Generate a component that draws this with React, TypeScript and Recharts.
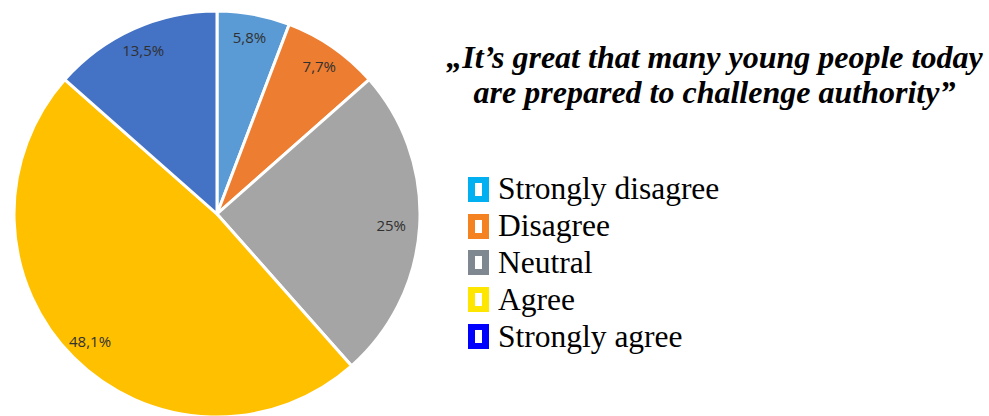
import { PieChart, Pie, Cell } from "recharts";

const categories = ["Strongly disagree", "Disagree", "Neutral", "Agree", "Strongly agree"];
const shares = [5.8, 7.7, 25, 48.1, 13.5];
const labels = ["5,8%", "7,7%", "25%", "48,1%", "13,5%"];
const sliceColors = ["#5B9BD5", "#ED7D31", "#A5A5A5", "#FFC000", "#4472C4"];
const legendColors = ["#00B0F0", "#F58220", "#7F8790", "#FFE600", "#0000FF"];

const data = categories.map((name, i) => ({ name, value: shares[i], label: labels[i] }));

const SERIF = "'Times New Roman', Tinos, 'Liberation Serif', 'DejaVu Serif', serif";
const RADIAN = Math.PI / 180;

function renderLabel(props: any) {
  const { cx, cy, midAngle, outerRadius, index } = props;
  const r = outerRadius * (index === 2 ? 0.86 : 0.885);
  const x = cx + r * Math.cos(-midAngle * RADIAN);
  const y = cy + r * Math.sin(-midAngle * RADIAN);
  return (
    <text
      x={x}
      y={y}
      fill="#303030"
      fontSize={15}
      fontFamily="'Open Sans', sans-serif"
      textAnchor="middle"
      dominantBaseline="central"
    >
      {labels[index]}
    </text>
  );
}

export default function App() {
  return (
    <div
      style={{
        position: "fixed",
        left: 0,
        top: 0,
        width: 989,
        height: 416,
        background: "#fff",
        overflow: "hidden",
      }}
    >
      <div style={{ position: "absolute", left: 0, top: 0 }}>
        <PieChart width={440} height={420} margin={{ top: 0, right: 0, bottom: 0, left: 0 }}>
          <Pie
            data={data}
            dataKey="value"
            cx={217}
            cy={214}
            outerRadius={203}
            startAngle={90}
            endAngle={-270}
            stroke="#fff"
            strokeWidth={3}
            label={renderLabel}
            labelLine={false}
            isAnimationActive={false}
          >
            {data.map((d, i) => (
              <Cell key={d.name} fill={sliceColors[i]} />
            ))}
          </Pie>
        </PieChart>
      </div>

      <div
        style={{
          position: "absolute",
          left: 440,
          top: 40,
          width: 549,
          textAlign: "center",
          fontFamily: SERIF,
          fontWeight: "bold",
          fontStyle: "italic",
          fontSize: 32,
          lineHeight: "35px",
          whiteSpace: "nowrap",
        }}
      >
        „It’s great that many young people today
        <br />
        are prepared to challenge authority”
      </div>

      <div
        style={{
          position: "absolute",
          left: 468,
          top: 171,
          fontFamily: SERIF,
          fontSize: 31.5,
          color: "#000",
        }}
      >
        {categories.map((c, i) => (
          <div key={c} style={{ display: "flex", alignItems: "center", height: 36.8 }}>
            <span
              style={{
                display: "inline-block",
                boxSizing: "border-box",
                width: 21,
                height: 25,
                borderStyle: "solid",
                borderColor: legendColors[i],
                borderWidth: "6px 7px",
                background: "#fff",
                marginRight: 9,
              }}
            />
            <span>{c}</span>
          </div>
        ))}
      </div>
    </div>
  );
}
